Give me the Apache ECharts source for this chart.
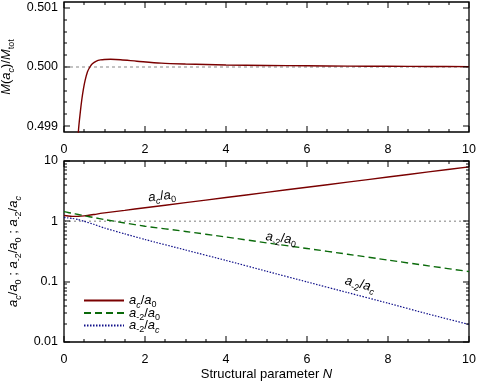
<!DOCTYPE html>
<html>
<head>
<meta charset="utf-8">
<script src="https://cdn.jsdelivr.net/npm/echarts@6/dist/echarts.min.js"></script>
<style>
html, body { margin: 0; padding: 0; background: #fff; }
#chart { width: 480px; height: 381px; }
</style>
</head>
<body>
<div id="chart"></div>
<script>
// top panel: mass fraction inside a_c
const nMass = [0.33, 0.36, 0.40, 0.44, 0.48, 0.52, 0.58, 0.64, 0.70, 0.80, 0.90, 1.0, 1.15, 1.4, 1.8, 2.4, 3, 4, 5, 6, 7, 8, 9, 10];
const massFrac = [0.4986, 0.49895, 0.49922, 0.49945, 0.49963, 0.49977, 0.49992, 0.50000, 0.500055, 0.50010, 0.50012, 0.500128, 0.50013, 0.500122, 0.500098, 0.500065, 0.50005, 0.500034, 0.500026, 0.50002, 0.500015, 0.500012, 0.500009, 0.500007];

// bottom panel: radius ratios
const nRatio = [0, 0.1, 0.2, 0.35, 0.5, 0.75, 1, 1.5, 2, 3, 4, 5, 6, 7, 8, 9, 10];
const acA0 = [1.25, 1.225, 1.21, 1.21, 1.23, 1.30, 1.38, 1.52, 1.68, 2.04, 2.48, 3.02, 3.67, 4.46, 5.42, 6.59, 8.0];
const am2A0 = [1.45, 1.40, 1.36, 1.30, 1.24, 1.15, 1.07, 0.94, 0.83, 0.68, 0.55, 0.44, 0.355, 0.285, 0.228, 0.183, 0.147];
const am2Ac = [1.16, 1.14, 1.12, 1.07, 1.0, 0.885, 0.775, 0.62, 0.5, 0.335, 0.225, 0.149, 0.099, 0.066, 0.044, 0.029, 0.0195];

const nEnds = [0, 10];
const halfLine = [0.5, 0.5];
const unitLine = [1, 1];

// tick values
const xMajor = [0, 2, 4, 6, 8, 10];
const xMinor = [0.5, 1, 1.5, 2.5, 3, 3.5, 4.5, 5, 5.5, 6.5, 7, 7.5, 8.5, 9, 9.5];
const massTicks = [0.499, 0.500, 0.501];
const massMinor = [0.4992, 0.4994, 0.4996, 0.4998, 0.5002, 0.5004, 0.5006, 0.5008];
const ratioTicks = [0.01, 0.1, 1, 10];
const ratioMinor = [0.02, 0.03, 0.04, 0.05, 0.06, 0.07, 0.08, 0.09, 0.2, 0.3, 0.4, 0.5, 0.6, 0.7, 0.8, 0.9, 2, 3, 4, 5, 6, 7, 8, 9];

const FONT = 'Liberation Sans';
const FS = 12.5;
const BLACK = '#000';

const rich = {
  i: { fontFamily: FONT, fontSize: 13, fontStyle: 'italic', color: BLACK, lineHeight: 18 },
  n: { fontFamily: FONT, fontSize: 13, color: BLACK, lineHeight: 18 },
  s: { fontFamily: FONT, fontSize: 9, color: BLACK, verticalAlign: 'bottom', lineHeight: 9 },
  si: { fontFamily: FONT, fontSize: 9, fontStyle: 'italic', color: BLACK, verticalAlign: 'bottom', lineHeight: 9 }
};

const txtAcA0 = '{i|a}{si|c}{n|/}{i|a}{s|0}';
const txtAm2A0 = '{i|a}{s|-2}{n|/}{i|a}{s|0}';
const txtAm2Ac = '{i|a}{s|-2}{n|/}{i|a}{si|c}';
const legendText = { acA0: txtAcA0, am2A0: txtAm2A0, am2Ac: txtAm2Ac };

const pairs = (xs, ys) => xs.map((x, k) => [x, ys[k]]);

// inward ticks on both sides of a grid, placed through the axis scales
// (drawn as thin filled rects)
function tickSeries(xIdx, yIdx, dir, values, other, len) {
  return {
    type: 'custom', xAxisIndex: xIdx, yAxisIndex: yIdx, silent: true, clip: false, z: 4,
    data: values.map(v => dir === 'x' ? [v, other] : [other, v]),
    renderItem: function (params, api) {
      const cs = params.coordSys;
      const p = api.coord([api.value(0), api.value(1)]);
      const style = { fill: BLACK };
      if (dir === 'x') {
        const x = Math.round(p[0]) - 0.5;
        const yb = cs.y + cs.height;
        return { type: 'group', children: [
          { type: 'rect', shape: { x: x, y: yb - len, width: 1, height: len }, style: style },
          { type: 'rect', shape: { x: x, y: cs.y, width: 1, height: len }, style: style }
        ] };
      }
      const y = Math.round(p[1]) - 0.5;
      const xr = cs.x + cs.width;
      return { type: 'group', children: [
        { type: 'rect', shape: { x: cs.x, y: y, width: len, height: 1 }, style: style },
        { type: 'rect', shape: { x: xr - len, y: y, width: len, height: 1 }, style: style }
      ] };
    }
  };
}

function xAxisDef(gridIndex, extra) {
  return Object.assign({
    type: 'value', gridIndex: gridIndex, position: 'bottom',
    min: 0, max: 10, interval: 2,
    axisLine: { show: false }, axisTick: { show: false }, minorTick: { show: false },
    splitLine: { show: false },
    axisLabel: { show: true, margin: 11, color: BLACK, fontFamily: FONT, fontSize: FS }
  }, extra || {});
}

function yAxisDef(gridIndex, scale, ticks, extra) {
  const base = scale === 'log'
    ? { type: 'log', logBase: 10, min: 0.01, max: 10 }
    : { type: 'value', min: 0.4989, max: 0.5011 };
  return Object.assign(base, {
    gridIndex: gridIndex, position: 'left',
    axisLine: { show: false }, axisTick: { show: false }, minorTick: { show: false },
    splitLine: { show: false },
    axisLabel: {
      show: true, customValues: ticks, margin: 6, color: BLACK, fontFamily: FONT, fontSize: FS,
      formatter: scale === 'log' ? (v => String(parseFloat(Number(v).toPrecision(3)))) : (v => Number(v).toFixed(3))
    }
  }, extra || {});
}

const gridBox = { show: true, borderColor: BLACK, borderWidth: 1.3, backgroundColor: 'transparent', outerBoundsMode: 'none' };

const chart = echarts.init(document.getElementById('chart'));

chart.setOption({
  animation: false,
  grid: [
    Object.assign({ left: 64, top: 2, width: 405, height: 130 }, gridBox),
    Object.assign({ left: 64, top: 161, width: 405, height: 181 }, gridBox)
  ],
  xAxis: [
    xAxisDef(0),
    xAxisDef(1, {
      name: '{n|Structural parameter }{i|N}',
      nameLocation: 'middle', nameGap: 23,
      nameTextStyle: { rich: rich }
    })
  ],
  yAxis: [
    yAxisDef(0, 'lin', massTicks, {
      name: '{i|M}{n|(}{i|a}{si|c}{n|)/}{i|M}{s|tot}',
      nameLocation: 'middle', nameGap: 48, nameRotate: 90,
      nameTextStyle: { rich: rich }
    }),
    yAxisDef(1, 'log', ratioTicks, {
      name: txtAcA0 + '{n| ; }' + txtAm2A0 + '{n| ; }' + txtAm2Ac,
      nameLocation: 'middle', nameGap: 28, nameRotate: 90,
      nameTextStyle: { rich: rich }
    })
  ],
  legend: {
    orient: 'vertical', left: 78, top: 289,
    itemWidth: 40, itemHeight: 12, itemGap: -3,
    itemStyle: { opacity: 0 },
    data: ['acA0', 'am2A0', 'am2Ac'],
    formatter: name => legendText[name],
    textStyle: { rich: rich }
  },
  series: [
    tickSeries(0, 0, 'x', xMajor, 0.5, 6),
    tickSeries(0, 0, 'x', xMinor, 0.5, 3),
    tickSeries(0, 0, 'y', massTicks, 5, 6),
    tickSeries(0, 0, 'y', massMinor, 5, 3),
    tickSeries(1, 1, 'x', xMajor, 1, 6),
    tickSeries(1, 1, 'x', xMinor, 1, 3),
    tickSeries(1, 1, 'y', ratioTicks, 5, 6),
    tickSeries(1, 1, 'y', ratioMinor, 5, 3),
    {
      type: 'line', xAxisIndex: 0, yAxisIndex: 0, silent: true,
      data: pairs(nEnds, halfLine), symbol: 'none',
      lineStyle: { color: '#888', width: 1, type: [3, 3] }
    },
    {
      type: 'line', xAxisIndex: 0, yAxisIndex: 0,
      data: pairs(nMass, massFrac), symbol: 'none', smooth: 0.3,
      lineStyle: { color: '#7a0000', width: 1.4 }
    },
    {
      type: 'line', xAxisIndex: 1, yAxisIndex: 1, silent: true,
      data: pairs(nEnds, unitLine), symbol: 'none',
      lineStyle: { color: '#aaa', width: 1.5, type: [2, 3] }
    },
    {
      name: 'acA0', type: 'line', xAxisIndex: 1, yAxisIndex: 1,
      data: pairs(nRatio, acA0), symbol: 'none', smooth: 0.2,
      itemStyle: { color: '#7a0000' },
      lineStyle: { color: '#7a0000', width: 1.4 },
      markPoint: {
        symbol: 'circle', symbolSize: 0, itemStyle: { color: 'transparent' },
        label: { show: true, position: 'inside', rotate: 7, formatter: txtAcA0, rich: rich },
        data: [{ coord: [2.42, 2.6] }]
      }
    },
    {
      name: 'am2A0', type: 'line', xAxisIndex: 1, yAxisIndex: 1,
      data: pairs(nRatio, am2A0), symbol: 'none', smooth: 0.2,
      itemStyle: { color: '#0a6a0a' },
      lineStyle: { color: '#0a6a0a', width: 1.4, type: [7, 4] },
      markPoint: {
        symbol: 'circle', symbolSize: 0, itemStyle: { color: 'transparent' },
        label: { show: true, position: 'inside', rotate: -8, formatter: txtAm2A0, rich: rich },
        data: [{ coord: [5.36, 0.52] }]
      }
    },
    {
      name: 'am2Ac', type: 'line', xAxisIndex: 1, yAxisIndex: 1,
      data: pairs(nRatio, am2Ac), symbol: 'none', smooth: 0.2,
      itemStyle: { color: '#10108a' },
      lineStyle: { color: '#10108a', width: 1.2, type: [1.5, 1.5] },
      markPoint: {
        symbol: 'circle', symbolSize: 0, itemStyle: { color: 'transparent' },
        label: { show: true, position: 'inside', rotate: -15, formatter: txtAm2Ac, rich: rich },
        data: [{ coord: [7.31, 0.09] }]
      }
    }
  ]
});
</script>
</body>
</html>
